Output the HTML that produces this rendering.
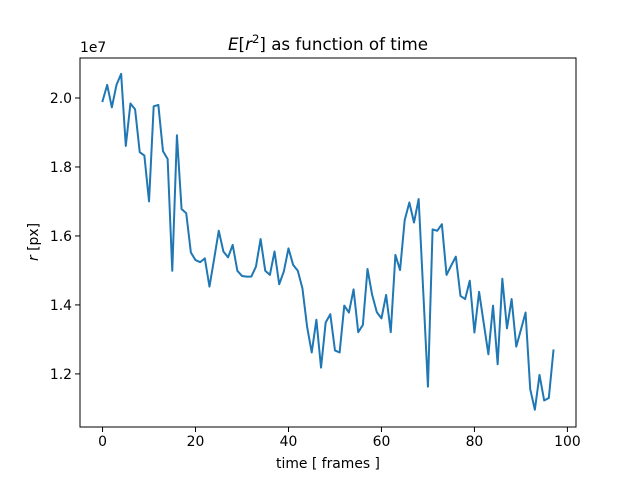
<!DOCTYPE html>
<html><head><meta charset="utf-8"><style>
body{margin:0;background:#fff}
svg text{font-family:"DejaVu Sans","Liberation Sans",sans-serif;fill:#000}
</style></head><body>
<svg id="c" width="640" height="480" viewBox="0 0 640 480"></svg>
<script>
const frames = Array.from({length:98},(_,i)=>i);
const values = [1.991,2.038,1.973,2.038,2.070,1.861,1.984,1.967,1.843,1.833,
1.700,1.976,1.980,1.846,1.823,1.499,1.892,1.678,1.666,1.552,
1.530,1.524,1.535,1.453,1.533,1.615,1.555,1.538,1.574,1.499,
1.484,1.482,1.482,1.511,1.591,1.499,1.487,1.555,1.460,1.497,
1.564,1.516,1.499,1.448,1.337,1.262,1.357,1.218,1.349,1.373,
1.268,1.262,1.398,1.378,1.445,1.321,1.342,1.504,1.429,1.379,
1.361,1.429,1.321,1.545,1.501,1.646,1.697,1.639,1.707,1.436,
1.163,1.619,1.615,1.634,1.487,1.514,1.540,1.426,1.417,1.470,
1.320,1.438,1.347,1.257,1.398,1.228,1.476,1.332,1.417,1.279,
1.328,1.378,1.156,1.096,1.197,1.123,1.130,1.268];
const xTicks = [0,20,40,60,80,100];
const yTicks = [1.2,1.4,1.6,1.8,2.0];
const yTickLabels = ["1.2","1.4","1.6","1.8","2.0"];

const L=80,R=576,T=58,B=427;
const xMin=-4.85,xMax=101.85,yMin=1.046,yMax=2.116;
const sx=v=>L+(v-xMin)/(xMax-xMin)*(R-L);
const sy=v=>B-(v-yMin)/(yMax-yMin)*(B-T);
const svg=document.getElementById('c');
const NS='http://www.w3.org/2000/svg';
function mk(tag,attrs,parent){const e=document.createElementNS(NS,tag);for(const k in attrs)e.setAttribute(k,attrs[k]);(parent||svg).appendChild(e);return e;}

const pts=frames.map((f,i)=>sx(f).toFixed(2)+','+sy(values[i]).toFixed(2)).join(' ');
const line=mk('polyline',{points:pts,fill:'none',stroke:'#1f77b4','stroke-width':2,'stroke-linejoin':'round','stroke-linecap':'square'});



const frame=mk('rect',{x:L,y:T,width:R-L,height:B-T,fill:'none',stroke:'#000','stroke-width':1});



xTicks.forEach(t=>{
  const x=sx(t);
  const tk=mk('line',{x1:x,x2:x,y1:B,y2:B+5,stroke:'#000','stroke-width':1});
  
  
  const lb=mk('text',{x:x,y:B+19,'font-size':13.9,'text-anchor':'middle'});
  lb.textContent=String(t);
  
  
});
yTicks.forEach((t,i)=>{
  const y=sy(t);
  const tk=mk('line',{x1:L-5,x2:L,y1:y,y2:y,stroke:'#000','stroke-width':1});
  
  
  const lb=mk('text',{x:L-8,y:y+5,'font-size':13.9,'text-anchor':'end'});
  lb.textContent=yTickLabels[i];
  
  
});
</script>
<svg width="640" height="480" style="position:absolute;left:0;top:0">
<text x="80" y="52" font-size="13.9">1e7</text>
<text x="328" y="50" font-size="16.7" text-anchor="middle"><tspan font-style="italic">E</tspan>[<tspan font-style="italic">r</tspan><tspan font-size="11.7" dy="-7">2</tspan><tspan dy="7">] as function of time</tspan></text>
<text x="328" y="468" font-size="13.9" text-anchor="middle">time [ frames ]</text>
<text transform="translate(38,242) rotate(-90)" font-size="13.9" text-anchor="middle"><tspan font-style="italic">r</tspan> [px]</text>
</svg>
</body></html>
